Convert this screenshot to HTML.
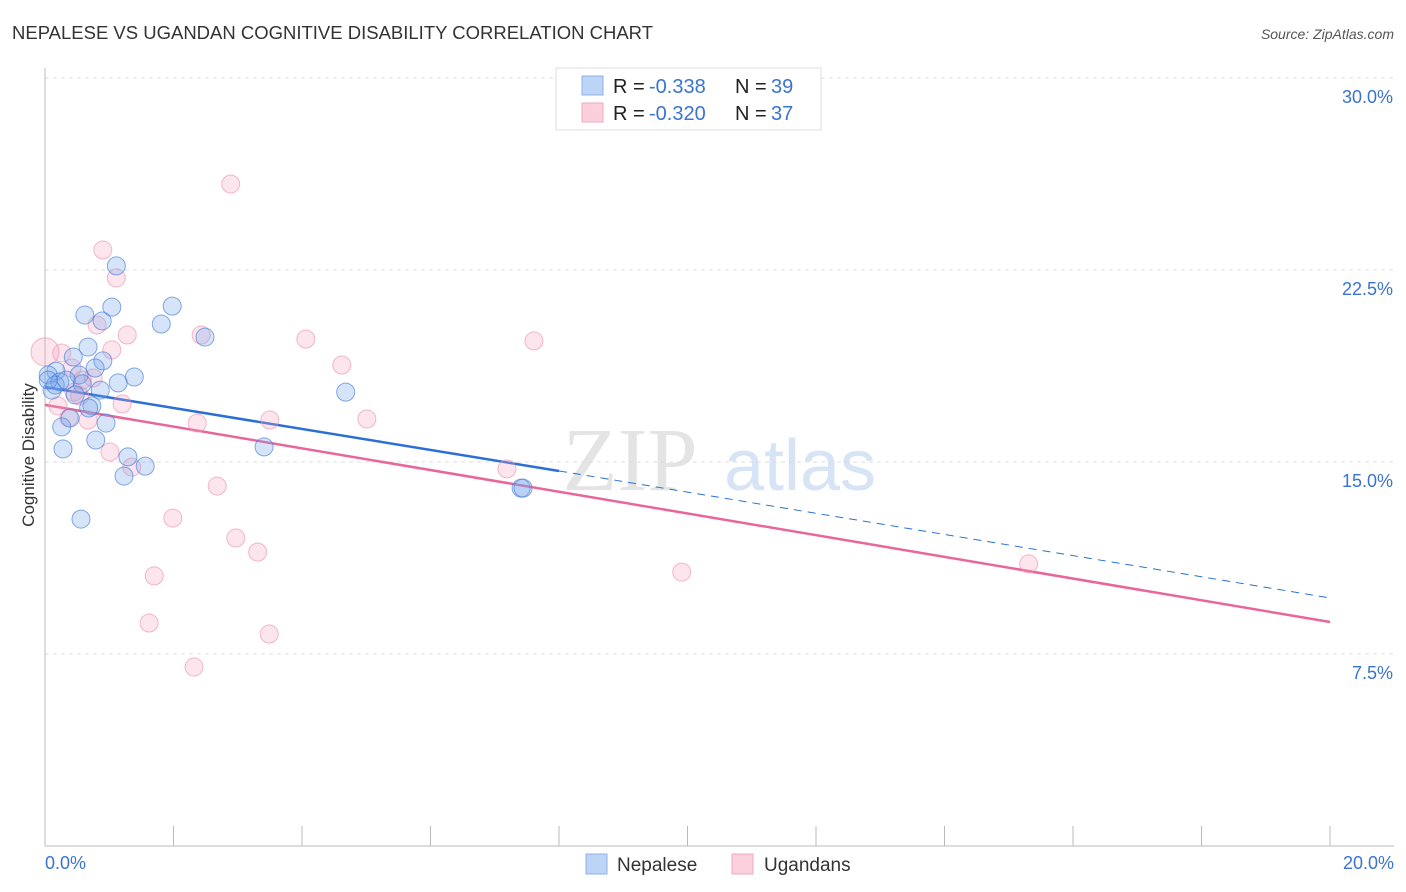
<!DOCTYPE html>
<html><head><meta charset="utf-8"><style>
body{margin:0;background:#fff;font-family:"Liberation Sans",sans-serif;}
svg{display:block}
</style></head><body>
<svg id="chart" width="1406" height="892">
<text x="12" y="39" font-size="18" fill="#333" textLength="641" lengthAdjust="spacingAndGlyphs">NEPALESE VS UGANDAN COGNITIVE DISABILITY CORRELATION CHART</text>
<text x="1394" y="39" font-size="14" fill="#555" font-style="italic" text-anchor="end">Source: ZipAtlas.com</text>
<text x="630" y="490" font-size="90" fill="#e4e4e4" font-family="Liberation Serif,serif" text-anchor="middle">ZIP</text>
<text x="800" y="490" font-size="72" fill="#d6e4f5" text-anchor="middle">atlas</text>
<g id="grid"></g>
<g id="axes"></g>
<g id="lines"></g>
<g id="points"></g>
<text x="34" y="455" font-size="17" fill="#333" text-anchor="middle" transform="rotate(-90 34 455)">Cognitive Disability</text>
<text x="45" y="869" font-size="18" fill="#3a74d0">0.0%</text>
<text x="1394" y="869" font-size="18" fill="#3a74d0" text-anchor="end">20.0%</text>
<g>
<rect x="556" y="68" width="265" height="62" fill="#fff" stroke="#ddd"/>
<rect x="582" y="76" width="21" height="19" fill="#bcd4f5" stroke="#8fb2e6"/>
<rect x="582" y="103" width="21" height="19" fill="#fccfdc" stroke="#f0a9c0"/>
<text x="613" y="93" font-size="20" fill="#222">R =</text><text x="649" y="93" font-size="20" fill="#3a74d0">-0.338</text>
<text x="735" y="93" font-size="20" fill="#222">N =</text><text x="771" y="93" font-size="20" fill="#3a74d0">39</text>
<text x="613" y="120" font-size="20" fill="#222">R =</text><text x="649" y="120" font-size="20" fill="#3a74d0">-0.320</text>
<text x="735" y="120" font-size="20" fill="#222">N =</text><text x="771" y="120" font-size="20" fill="#3a74d0">37</text>
</g>
<g>
<rect x="586" y="854" width="21" height="20" fill="#bcd4f5" stroke="#8fb2e6"/>
<text x="617" y="871" font-size="19" fill="#333">Nepalese</text>
<rect x="732" y="854" width="21" height="20" fill="#fccfdc" stroke="#f0a9c0"/>
<text x="764" y="871" font-size="19" fill="#333">Ugandans</text>
</g>
</svg>
<script>
const yTicks=[7.5,15,22.5,30];
const yTickLabels=["7.5%","15.0%","22.5%","30.0%"];
const xTicks=[0,2,4,6,8,10,12,14,16,18,20];
const blueX=[1.11,1.04,1.98,0.62,0.89,1.81,2.49,0.67,0.44,0.90,0.78,0.17,0.05,0.53,1.39,0.23,1.14,0.58,0.86,0.11,4.68,0.73,0.68,0.39,0.95,0.26,0.79,3.41,0.28,1.29,1.56,1.23,7.41,7.44,0.56,0.16,0.33,0.47,0.05];
const blueY=[22.66,21.05,21.09,20.74,20.51,20.39,19.88,19.49,19.10,18.95,18.67,18.55,18.40,18.40,18.32,18.13,18.09,18.05,17.81,17.81,17.73,17.19,17.11,16.72,16.52,16.37,15.86,15.59,15.51,15.20,14.84,14.45,13.98,13.98,12.77,18.01,18.20,17.62,18.20];
const pinkX=[2.89,0.90,1.11,0.81,1.28,2.43,4.06,7.61,1.04,0.26,0.0,4.62,0.42,0.58,0.75,0.20,1.20,0.45,5.01,3.50,2.37,0.67,1.01,1.35,7.19,2.68,1.99,2.97,3.31,1.70,9.91,15.31,1.62,3.49,2.32,0.37,0.54];
const pinkY=[25.86,23.28,22.19,20.35,19.96,19.96,19.80,19.73,19.38,19.26,19.30,18.79,18.67,18.20,18.28,17.19,17.27,17.73,16.68,16.64,16.52,16.64,15.39,14.80,14.73,14.06,12.81,12.03,11.48,10.55,10.70,11.02,8.71,8.28,6.99,16.72,17.58];
const blueLine=[17.93,14.65,9.69]; // at x=0, 8, 20
const pinkLine=[17.23,8.75]; // at x=0, 20
const NS="http://www.w3.org/2000/svg";
const X=v=>45+v/20*1285, Y=v=>846-v/30*768;
function mk(t,a,p){const e=document.createElementNS(NS,t);for(const k in a)e.setAttribute(k,a[k]);document.getElementById(p).appendChild(e);return e;}
yTicks.forEach((t,i)=>{
 const g=mk('line',{x1:45,x2:1394,y1:Y(t),y2:Y(t),stroke:'#ddd','stroke-dasharray':'4,4'},'grid');
 
 
 const l=mk('text',{x:1393,y:Y(t)+25,'font-size':18,fill:'#3a74d0','text-anchor':'end'},'grid');
 l.textContent=yTickLabels[i];
 
 
});
const ya=mk('line',{x1:45,x2:45,y1:68,y2:846,stroke:'#bbb'},'axes');


const xa=mk('line',{x1:45,x2:1394,y1:846,y2:846,stroke:'#bbb'},'axes');


xTicks.forEach(t=>{const k=mk('line',{x1:X(t),x2:X(t),y1:826,y2:846,stroke:'#bbb'},'axes');
 
 });
function pts(xs,ys,fill,stroke,name){xs.forEach((x,i)=>{
 const r=(name==='ugandans-point'&&x===0)?14:9;
 const c=mk('circle',{cx:X(x),cy:Y(ys[i]),r:r,fill:fill,stroke:stroke,'stroke-width':1},'points');
 
 });}
pts(pinkX,pinkY,'rgba(245,160,190,0.28)','rgba(235,140,170,0.6)','ugandans-point');
pts(blueX,blueY,'rgba(120,165,235,0.3)','rgba(70,125,215,0.65)','nepalese-point');
const b1=mk('line',{x1:X(0),y1:Y(blueLine[0]),x2:X(8),y2:Y(blueLine[1]),stroke:'#2a6fd6','stroke-width':2.5},'lines');


const b2=mk('line',{x1:X(8),y1:Y(blueLine[1]),x2:X(20),y2:Y(blueLine[2]),stroke:'#2a6fd6','stroke-width':1,'stroke-dasharray':'8,6'},'lines');


const p1=mk('line',{x1:X(0),y1:Y(pinkLine[0]),x2:X(20),y2:Y(pinkLine[1]),stroke:'#e8669a','stroke-width':2.5},'lines');


</script>
</body></html>
